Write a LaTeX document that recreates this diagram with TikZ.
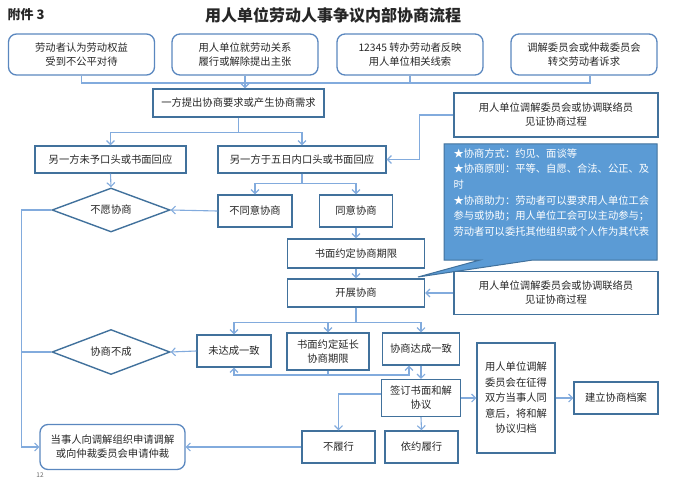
\documentclass[tikz,border=0pt]{standalone}
\usepackage{fontspec}
\setmainfont{Noto Sans CJK SC}
\usepackage{xcolor}
\usetikzlibrary{arrows.meta}
\usetikzlibrary{shapes.geometric}

\definecolor{boxblue}{HTML}{41719C}
\definecolor{rboxblue}{HTML}{5A87BF}
\definecolor{lineblue}{HTML}{82ABDD}
\definecolor{notefill}{HTML}{5B9BD5}

\begin{document}
\begin{tikzpicture}[x=1pt, y=-1pt,
	every node/.style={font=\fontsize{10.3}{14}\selectfont, text=black!85},
	rbox/.style={draw=rboxblue, line width=1.3pt, rounded corners=8pt, align=center, inner sep=0pt, minimum width=146pt, minimum height=41pt},
	pbox/.style={draw=boxblue, line width=1.4pt, align=center, inner sep=0pt},
	dbox/.style={diamond, aspect=2.7, draw=boxblue, line width=1.4pt, inner sep=0pt, minimum width=118pt, minimum height=44pt},
	flow/.style={draw=lineblue, line width=1.1pt},
	arr/.style={flow, -{Straight Barb[length=4pt, width=8pt]}}]
	\useasboundingbox (0,0) rectangle (680,481);
	%
	% heading
	\node[font=\fontsize{13}{15}\selectfont\bfseries] (att) at (26,15) {附件 3};
	\node[font=\fontsize{16}{18}\selectfont\bfseries] (title) at (333,15) {用人单位劳动人事争议内部协商流程};
	%
	% sources
	\node[rbox] (src1) at (81.5,54.5) {劳动者认为劳动权益\\受到不公平对待};
	\node[rbox] (src2) at (245,54.5) {用人单位就劳动关系\\履行或解除提出主张};
	\node[rbox] (src3) at (410,54.5) {12345 转办劳动者反映\\用人单位相关线索};
	\node[rbox] (src4) at (584,54.5) {调解委员会或仲裁委员会\\转交劳动者诉求};
	%
	% callout
	\draw[fill=notefill, draw=boxblue, line width=1pt] (444,144) -- (657,144) -- (657,260) -- (533,260) -- (418,277) -- (480,260) -- (444,260) -- cycle;
	\node[anchor=north west, align=left, text=white, font=\fontsize{10.3}{15.6}\selectfont] (tips) at (450,145) {★协商方式：约见、面谈等\\★协商原则：平等、自愿、合法、公正、及\\时\\★协商助力：劳动者可以要求用人单位工会\\参与或协助；用人单位工会可以主动参与；\\劳动者可以委托其他组织或个人作为其代表};
	%
	% boxes
	\node[pbox, minimum width=171pt, minimum height=28pt] (ask) at (238.5,103) {一方提出协商要求或产生协商需求};
	\node[pbox, minimum width=204pt, minimum height=44pt] (wit1) at (556,115) {用人单位调解委员会或协调联络员\\见证协商过程};
	\node[pbox, minimum width=151pt, minimum height=27pt] (noreply) at (110.5,159.5) {另一方未予口头或书面回应};
	\node[pbox, minimum width=168pt, minimum height=27pt] (reply) at (302,159.5) {另一方于五日内口头或书面回应};
	\node[dbox] (refuse) at (111,210) {不愿协商};
	\node[pbox, minimum width=74pt, minimum height=32pt] (disagree) at (255,211) {不同意协商};
	\node[pbox, minimum width=73pt, minimum height=32pt] (agree) at (356,211) {同意协商};
	\node[pbox, minimum width=137pt, minimum height=29pt] (term) at (356,253.5) {书面约定协商期限};
	\node[pbox, minimum width=137pt, minimum height=28pt] (talk) at (356,293) {开展协商};
	\node[pbox, minimum width=204pt, minimum height=43pt] (wit2) at (556,293) {用人单位调解委员会或协调联络员\\见证协商过程};
	\node[pbox, minimum width=74pt, minimum height=32pt] (notagree) at (234,351) {未达成一致};
	\node[pbox, minimum width=82pt, minimum height=37pt] (extend) at (328,351.5) {书面约定延长\\协商期限};
	\node[pbox, minimum width=77pt, minimum height=32pt] (agreed) at (421,349) {协商达成一致};
	\node[dbox, minimum height=45pt] (fail) at (111,352) {协商不成};
	\node[pbox, minimum width=79pt, minimum height=37pt] (sign) at (421,398) {签订书面和解\\协议};
	\node[pbox, minimum width=78pt, minimum height=110pt, font=\fontsize{10.3}{15.5}\selectfont] (archive) at (516,398) {用人单位调解\\委员会在征得\\双方当事人同\\意后，将和解\\协议归档};
	\node[pbox, minimum width=84pt, minimum height=32pt] (record) at (616,398) {建立协商档案};
	\node[pbox, minimum width=73pt, minimum height=32pt] (unful) at (338.5,447) {不履行};
	\node[pbox, minimum width=73pt, minimum height=32pt] (comply) at (421.5,447) {依约履行};
	\node[rbox, minimum width=145pt, minimum height=45pt] (apply) at (112.5,447) {当事人向调解组织申请调解\\或向仲裁委员会申请仲裁};
	%
	% connectors
	\coordinate (bus) at (0,83);
	\draw[flow] (src1.south) -- (src1.south |- bus) -- ([xshift=6pt]src4.south |- bus) -- ([xshift=6pt]src4.south);
	\draw[flow] (src3.south) -- (src3.south |- bus);
	\draw[arr] (src2.south) -- (ask.north -| src2.south);
	\draw[arr] (ask.south) -- ++(0,15) -| (noreply.north);
	\draw[arr] (ask.south) -- ++(0,15) -| (reply.north);
	\draw[arr] (wit1.west) -- ++(-34,0) |- (reply.east);
	\draw[arr] (noreply.south) -- (refuse.north);
	\draw[arr] (reply.south) -- ++(0,10) -| (disagree.north);
	\draw[arr] (reply.south) -- ++(0,10) -| (agree.north);
	\draw[arr] (disagree.west) -- (refuse.east);
	\draw[arr] (refuse.west) -- ++(-30,0) |- (apply.west);
	\draw[arr] (agree.south) -- (term.north);
	\draw[arr] (term.south) -- (talk.north);
	\draw[arr] (wit2.west) -- (talk.east);
	%
	\draw[arr] (talk.south) -- ++(0,15) -| (notagree.north);
	\draw[arr] (talk.south) -- ++(0,15) -| (extend.north);
	\draw[arr] (talk.south) -- ++(0,15) -| (agreed.north);
	\draw[arr] (notagree.west) -- (fail.east);
	\draw[flow] (fail.west) -- ++(-30,0);
	%
	% extension loop
	\coordinate (loop) at (409,375);
	\draw[flow] (extend.south) -- (extend.south |- loop);
	\draw[arr] (extend.south |- loop) -| (notagree.south);
	\draw[arr] (extend.south |- loop) -- (loop) -- (loop |- agreed.south);
	%
	\draw[arr] (agreed.south) -- (sign.north);
	\draw[arr] ([yshift=4pt]sign.west) -| (unful.north);
	\draw[arr] (sign.south) -- (comply.north);
	\draw[arr] (sign.east) -- (archive.west);
	\draw[arr] (archive.east) -- (record.west);
	\draw[arr] (unful.west) -- (apply.east);
	%
	% page number
	\node[font=\fontsize{6.5}{7}\selectfont, text=black!60, inner sep=1pt] (page) at (40,475) {12};
\end{tikzpicture}
\end{document}
